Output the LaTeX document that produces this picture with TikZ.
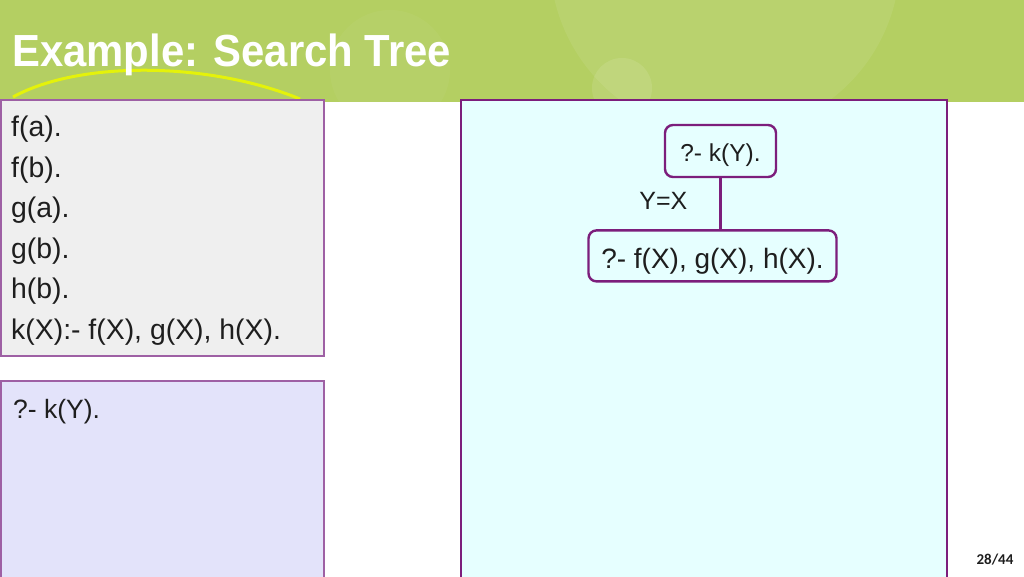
\documentclass[tikz,border=0pt]{standalone}
\usepackage{fontspec}
\setmainfont{Liberation Sans}
\newfontfamily\titlefont{Liberation Sans}[FakeStretch=0.93]
\newfontfamily\pagefont{Carlito}
\usepackage{tikz}
\usetikzlibrary{positioning}

\definecolor{bargreen}{RGB}{180,207,98}
\definecolor{arcyellow}{RGB}{228,242,10}
\definecolor{framepurple}{RGB}{124,30,124}
\definecolor{thinpurple}{RGB}{158,96,164}
\definecolor{factgray}{RGB}{239,239,239}
\definecolor{querylilac}{RGB}{227,227,250}
\definecolor{treecyan}{RGB}{230,255,255}
\definecolor{inkgray}{RGB}{30,30,30}

\tikzset{
  goal/.style={draw=framepurple, line width=2.4pt, rounded corners=8pt, fill=treecyan,
    text=inkgray, inner sep=0pt},
  bindlabel/.style={font=\fontsize{25}{30}\selectfont, text=inkgray, inner sep=0pt},
  fact/.style={anchor=base west, inner sep=0pt, text=inkgray, font=\fontsize{28.4}{34}\selectfont}
}

\begin{document}
\begin{tikzpicture}[x=1pt, y=-1pt, node distance=51pt]

    \useasboundingbox (0,0) rectangle (1024,576);

    % title bar
    \fill[bargreen] (0,0) rectangle (1024,102);
    \begin{scope}
        \clip (0,0) rectangle (1024,102);
        \fill[white, opacity=.08] (725,-40) circle (175);
        \fill[white, opacity=.10] (622,88) circle (30);
        \fill[white, opacity=.04] (390,70) circle (60);
    \end{scope}
    \draw[arcyellow, line width=3pt] (13,97) .. controls (80,60) and (210,62) .. (300,99);
    \node (title) [anchor=base west, inner sep=0pt, text=white, font=\titlefont\fontsize{45}{52}\selectfont\bfseries] at (12,66) {Example: Search Tree};

    % program box
    \draw[thinpurple, line width=1.2pt, fill=factgray] (1,100) rectangle (324,356);
    \foreach \fact [count=\i from 0] in {f(a).,f(b).,g(a).,g(b).,h(b).,{k(X):- f(X), g(X), h(X).}}
        \node (fact\i) [fact] at (11,136.7+40.5*\i) {\fact};

    % query box
    \draw[thinpurple, line width=1.2pt, fill=querylilac] (1,381) rectangle (324,578);
    \node (query) [fact, font=\fontsize{26.5}{32}\selectfont] at (13,418) {?- k(Y).};

    % tree box
    \draw[framepurple, line width=2pt, fill=treecyan] (461,100) rectangle (947,578);
    \node (root) [goal, minimum width=111pt, minimum height=52pt, text height=22pt, text depth=1pt, font=\fontsize{24.5}{30}\selectfont] at (720.5,151) {?- k(Y).};
    \node (child) [goal, minimum width=248pt, minimum height=51pt, text height=27pt, text depth=1pt, font=\fontsize{28}{34}\selectfont, below=of root, xshift=-8pt] {?- f(X), g(X), h(X).};

    \draw[framepurple, line width=2.4pt] (root.south) -- node[bindlabel, left=32pt, yshift=3pt] {Y=X} (root.south |- child.north);

    % page number
    \node (page) [text=inkgray, font=\pagefont\fontsize{15}{18}\selectfont\bfseries] at (995,560) {28/44};

\end{tikzpicture}
\end{document}
